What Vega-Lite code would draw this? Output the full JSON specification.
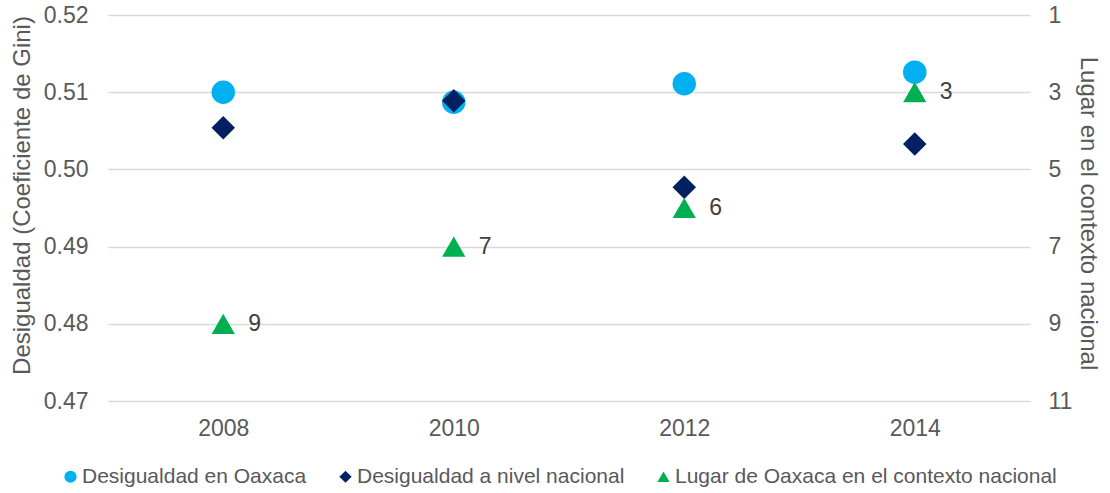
{
  "$schema": "https://vega.github.io/schema/vega-lite/v6.json",
  "width": 922,
  "height": 386,
  "autosize": {"type": "none"},
  "padding": {"left": 108, "top": 15, "right": 80, "bottom": 92},
  "background": "white",
  "config": {
    "font": "Liberation Sans",
    "view": {"stroke": null},
    "axis": {"labelColor": "#595959", "titleColor": "#595959", "titleFontWeight": "normal", "labelFont": "Liberation Sans", "titleFont": "Liberation Sans"},
    "legend": {"labelFont": "Liberation Sans"}
  },
  "data": {
    "values": [
      {"anio": "2008", "serie": "Desigualdad en Oaxaca", "eje": "gini", "valor": 0.5100},
      {"anio": "2010", "serie": "Desigualdad en Oaxaca", "eje": "gini", "valor": 0.5087},
      {"anio": "2012", "serie": "Desigualdad en Oaxaca", "eje": "gini", "valor": 0.5111},
      {"anio": "2014", "serie": "Desigualdad en Oaxaca", "eje": "gini", "valor": 0.5126},
      {"anio": "2008", "serie": "Desigualdad a nivel nacional", "eje": "gini", "valor": 0.5054},
      {"anio": "2010", "serie": "Desigualdad a nivel nacional", "eje": "gini", "valor": 0.5089},
      {"anio": "2012", "serie": "Desigualdad a nivel nacional", "eje": "gini", "valor": 0.4977},
      {"anio": "2014", "serie": "Desigualdad a nivel nacional", "eje": "gini", "valor": 0.5033},
      {"anio": "2008", "serie": "Lugar de Oaxaca en el contexto nacional", "eje": "lugar", "valor": 9},
      {"anio": "2010", "serie": "Lugar de Oaxaca en el contexto nacional", "eje": "lugar", "valor": 7},
      {"anio": "2012", "serie": "Lugar de Oaxaca en el contexto nacional", "eje": "lugar", "valor": 6},
      {"anio": "2014", "serie": "Lugar de Oaxaca en el contexto nacional", "eje": "lugar", "valor": 3}
    ]
  },
  "encoding": {
    "x": {
      "field": "anio",
      "type": "ordinal",
      "scale": {"paddingInner": 0, "paddingOuter": 0},
      "axis": {"title": null, "labelAngle": 0, "domain": false, "ticks": false, "labelFontSize": 23, "labelPadding": 16}
    }
  },
  "layer": [
    {
      "transform": [{"filter": "datum.eje == 'gini'"}],
      "mark": {"type": "point", "filled": true, "opacity": 1, "size": 550},
      "encoding": {
        "y": {
          "field": "valor",
          "type": "quantitative",
          "scale": {"domain": [0.47, 0.52], "nice": false, "zero": false},
          "axis": {
            "orient": "left",
            "title": "Desigualdad (Coeficiente de Gini)",
            "values": [0.47, 0.48, 0.49, 0.50, 0.51, 0.52],
            "format": ".2f",
            "domain": false,
            "ticks": false,
            "labelFontSize": 23,
            "labelPadding": 20,
            "titleFontSize": 24,
            "titlePadding": 9,
            "titleY": 180,
            "grid": true,
            "gridColor": "#d9d9d9",
            "gridWidth": 1.5
          }
        },
        "color": {
          "field": "serie",
          "type": "nominal",
          "scale": {
            "domain": ["Desigualdad en Oaxaca", "Desigualdad a nivel nacional", "Lugar de Oaxaca en el contexto nacional"],
            "range": ["#00B0F0", "#002060", "#00B050"]
          },
          "legend": {
            "title": null,
            "orient": "none",
            "direction": "horizontal",
            "legendX": -48,
            "legendY": 451,
            "labelFontSize": 21,
            "labelColor": "#595959",
            "labelLimit": 0,
            "symbolSize": 150,
            "labelOffset": 1,
            "columnPadding": 28
          }
        },
        "shape": {
          "field": "serie",
          "type": "nominal",
          "scale": {
            "domain": ["Desigualdad en Oaxaca", "Desigualdad a nivel nacional", "Lugar de Oaxaca en el contexto nacional"],
            "range": ["circle", "diamond", "M0,-0.87L1,0.87L-1,0.87Z"]
          },
          "legend": {
            "title": null,
            "orient": "none",
            "direction": "horizontal",
            "legendX": -48,
            "legendY": 451,
            "labelFontSize": 21,
            "labelColor": "#595959",
            "labelLimit": 0,
            "symbolSize": 150,
            "labelOffset": 1,
            "columnPadding": 28
          }
        }
      }
    },
    {
      "transform": [{"filter": "datum.eje == 'lugar'"}],
      "encoding": {
        "y": {
          "field": "valor",
          "type": "quantitative",
          "scale": {"domain": [1, 11], "nice": false, "zero": false, "reverse": true},
          "axis": {
            "orient": "right",
            "title": "Lugar en el contexto nacional",
            "values": [1, 3, 5, 7, 9, 11],
            "domain": false,
            "ticks": false,
            "grid": false,
            "labelFontSize": 23,
            "labelPadding": 18,
            "titleFontSize": 24,
            "titlePadding": 4,
            "titleY": 198
          }
        }
      },
      "layer": [
        {
          "mark": {"type": "point", "filled": true, "opacity": 1, "size": 540},
          "encoding": {
            "color": {"field": "serie", "type": "nominal"},
            "shape": {"field": "serie", "type": "nominal"}
          }
        },
        {
          "mark": {"type": "text", "align": "left", "baseline": "middle", "dx": 25, "fontSize": 23, "color": "#404040"},
          "encoding": {"text": {"field": "valor", "type": "quantitative"}}
        }
      ]
    }
  ],
  "resolve": {"scale": {"y": "independent"}}
}
